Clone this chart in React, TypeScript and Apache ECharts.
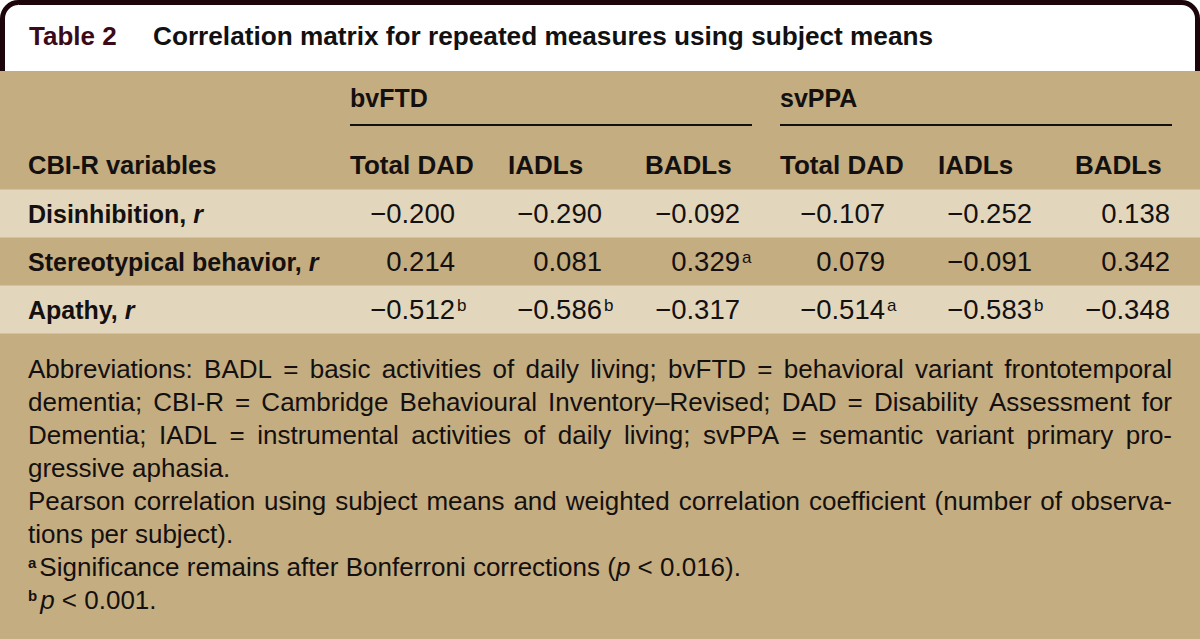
import React, { useEffect, useRef } from "react";
import * as echarts from "echarts";

// ---------- data ----------
const tableLabel = "Table 2";
const tableTitle = "Correlation matrix for repeated measures using subject means";
const groupNames = ["bvFTD", "svPPA"];
const subColumns = ["Total DAD", "IADLs", "BADLs", "Total DAD", "IADLs", "BADLs"];
const rowHeader = "CBI-R variables";
const rowLabels = ["Disinhibition", "Stereotypical behavior", "Apathy"];
const disinhibition = [-0.2, -0.29, -0.092, -0.107, -0.252, 0.138];
const stereotypical = [0.214, 0.081, 0.329, 0.079, -0.091, 0.342];
const apathy = [-0.512, -0.586, -0.317, -0.514, -0.583, -0.348];
const disinhibitionMarks = ["", "", "", "", "", ""];
const stereotypicalMarks = ["", "", "a", "", "", ""];
const apathyMarks = ["b", "b", "", "a", "b", ""];
const justifiedNotes = [
  "Abbreviations: BADL = basic activities of daily living; bvFTD = behavioral variant frontotemporal",
  "dementia; CBI-R = Cambridge Behavioural Inventory\u2013Revised; DAD = Disability Assessment for",
  "Dementia; IADL = instrumental activities of daily living; svPPA = semantic variant primary pro-",
];
const noteLine4 = "gressive aphasia.";
const noteLine5 = "Pearson correlation using subject means and weighted correlation coefficient (number of observa-";
const noteLine6 = "tions per subject).";
const footA = ["a", "Significance remains after Bonferroni corrections (", "p", " < 0.016)."];
const footB = ["b", "p", " < 0.001."];

// ---------- layout ----------
const W = 1200;
const H = 639;
const FONT = "'Liberation Sans', Arial, Helvetica, sans-serif";
const TAN = "#c4ad80";
const LIGHT = "#e2d7bd";
const INK = "#141010";
const colLeft = [350, 508, 645, 780, 938, 1075];
const colRight = [455, 602, 740, 885, 1032, 1170];
const groupLeft = [350, 780];
const groupRight = [752, 1172];
const rowTop = 189.5;
const rowH = 48;
const noteTop = 369;
const notePitch = 33;
const leftX = 28;
const rightX = 1172;

let ctxCache: CanvasRenderingContext2D | null = null;
function measure(text: string, font: string): number {
  if (!ctxCache) {
    const c = document.createElement("canvas");
    ctxCache = c.getContext("2d");
  }
  ctxCache!.font = font;
  return ctxCache!.measureText(text).width;
}

function fmt(v: number): string {
  const s = Math.abs(v).toFixed(3);
  return v < 0 ? "\u2212" + s : s;
}

function buildElements(): any[] {
  const els: any[] = [];
  // frame + white title area
  els.push({
    type: "rect",
    shape: { x: 2.5, y: 2.5, width: W - 5, height: 140, r: [16, 16, 0, 0] },
    style: { fill: "#ffffff", stroke: "#1c060c", lineWidth: 5 },
  });
  els.push({ type: "rect", shape: { x: 0, y: 71, width: W, height: H - 71 }, style: { fill: TAN } });

  // row bands
  const rows = [disinhibition, stereotypical, apathy];
  rows.forEach((_, i) => {
    if (i % 2 === 0) {
      els.push({
        type: "rect",
        shape: { x: 0, y: rowTop + i * rowH, width: W, height: rowH },
        style: { fill: LIGHT },
      });
    }
  });

  // title
  const bold26 = { fontFamily: FONT, fontSize: 26, fontWeight: "bold" };
  els.push({
    type: "text",
    x: 29,
    y: 36,
    style: { text: tableLabel, ...bold26, fill: "#3a0a18", align: "left", verticalAlign: "middle" },
  });
  els.push({
    type: "text",
    x: 153,
    y: 36,
    style: { text: tableTitle, ...bold26, fontSize: 26.2, fill: "#111111", align: "left", verticalAlign: "middle" },
  });

  // group headers
  groupNames.forEach((g, i) => {
    els.push({
      type: "text",
      x: groupLeft[i],
      y: 98,
      style: { text: g, ...bold26, fontSize: 25, fill: INK, align: "left", verticalAlign: "middle" },
    });
    els.push({
      type: "line",
      shape: { x1: groupLeft[i], y1: 125, x2: groupRight[i], y2: 125 },
      style: { stroke: "#111111", lineWidth: 2 },
    });
  });

  // column headers
  els.push({
    type: "text",
    x: leftX,
    y: 165,
    style: { text: rowHeader, ...bold26, fontSize: 25.5, fill: INK, align: "left", verticalAlign: "middle" },
  });
  subColumns.forEach((c, i) => {
    els.push({
      type: "text",
      x: colLeft[i],
      y: 165,
      style: { text: c, ...bold26, fontSize: 26, fill: INK, align: "left", verticalAlign: "middle" },
    });
  });

  // body
  const marks = [disinhibitionMarks, stereotypicalMarks, apathyMarks];
  rows.forEach((vals, r) => {
    const cy = rowTop + r * rowH + rowH / 2;
    els.push({
      type: "text",
      x: leftX,
      y: cy,
      style: {
        text: `{b|${rowLabels[r]}, }{i|r}`,
        align: "left",
        verticalAlign: "middle",
        rich: {
          b: { fontFamily: FONT, fontSize: 25, fontWeight: "bold", fill: INK },
          i: { fontFamily: FONT, fontSize: 25, fontWeight: "bold", fontStyle: "italic", fill: INK },
        },
      },
    });
    vals.forEach((v, c) => {
      els.push({
        type: "text",
        x: colRight[c],
        y: cy,
        style: {
          text: fmt(v),
          fontFamily: FONT,
          fontSize: 27.5,
          fill: INK,
          align: "right",
          verticalAlign: "middle",
        },
      });
      const m = marks[r][c];
      if (m) {
        els.push({
          type: "text",
          x: colRight[c] + 2,
          y: cy - 13,
          style: { text: m, fontFamily: FONT, fontSize: 17, fill: INK, align: "left", verticalAlign: "top" },
        });
      }
    });
  });

  // footnotes
  const noteFontSize = 26;
  const noteFont = `${noteFontSize}px ${FONT}`;
  const plain = (t: string, x: number, y: number) => ({
    type: "text",
    x,
    y,
    style: { text: t, fontFamily: FONT, fontSize: noteFontSize, fill: INK, align: "left", verticalAlign: "middle" },
  });
  const justify = (line: string, y: number) => {
    const words = line.split(" ");
    const widths = words.map((w) => measure(w, noteFont));
    const total = widths.reduce((a, b) => a + b, 0);
    const gap = (rightX - leftX - total) / (words.length - 1);
    let x = leftX;
    words.forEach((w, i) => {
      els.push(plain(w, x, y));
      x += widths[i] + gap;
    });
  };
  justifiedNotes.forEach((l, i) => justify(l, noteTop + i * notePitch));
  els.push(plain(noteLine4, leftX, noteTop + 3 * notePitch));
  justify(noteLine5, noteTop + 4 * notePitch);
  els.push(plain(noteLine6, leftX, noteTop + 5 * notePitch));

  const richNote = {
    n: { fontFamily: FONT, fontSize: noteFontSize, fill: INK },
    i: { fontFamily: FONT, fontSize: noteFontSize, fontStyle: "italic", fill: INK },
  };
  const supFont = `bold 15px ${FONT}`;
  // footnote a
  {
    const y = noteTop + 6 * notePitch;
    els.push({
      type: "text",
      x: leftX,
      y: y - 12,
      style: { text: footA[0], fontFamily: FONT, fontSize: 15, fontWeight: "bold", fill: INK, align: "left", verticalAlign: "top" },
    });
    const x0 = leftX + measure(footA[0], supFont) + 3;
    els.push({
      type: "text",
      x: x0,
      y,
      style: {
        text: `{n|${footA[1]}}{i|${footA[2]}}{n|${footA[3]}}`,
        align: "left",
        verticalAlign: "middle",
        rich: richNote,
      },
    });
  }
  // footnote b
  {
    const y = noteTop + 7 * notePitch;
    els.push({
      type: "text",
      x: leftX,
      y: y - 12,
      style: { text: footB[0], fontFamily: FONT, fontSize: 15, fontWeight: "bold", fill: INK, align: "left", verticalAlign: "top" },
    });
    const x0 = leftX + measure(footB[0], supFont) + 3;
    els.push({
      type: "text",
      x: x0,
      y,
      style: {
        text: `{i|${footB[1]}}{n|${footB[2]}}`,
        align: "left",
        verticalAlign: "middle",
        rich: richNote,
      },
    });
  }
  return els;
}

export default function App() {
  const ref = useRef<HTMLDivElement>(null);
  useEffect(() => {
    if (!ref.current) return;
    const chart = echarts.init(ref.current, undefined, { renderer: "svg", width: W, height: H });
    chart.setOption({
      animation: false,
      backgroundColor: "#ffffff",
      graphic: { elements: buildElements() },
    });
    return () => chart.dispose();
  }, []);
  return (
    <div
      ref={ref}
      style={{ position: "fixed", left: 0, top: 0, width: W, height: H, background: "#fff" }}
    />
  );
}
